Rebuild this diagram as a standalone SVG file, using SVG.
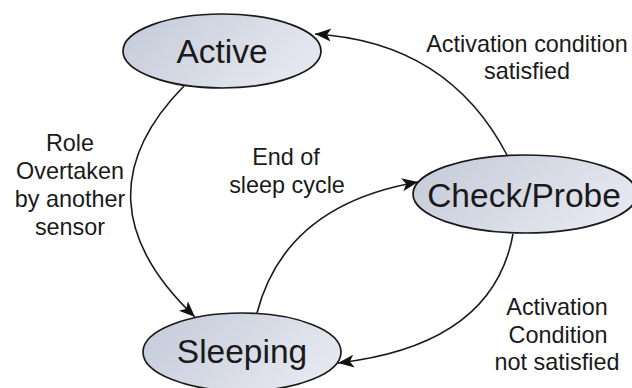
<svg xmlns="http://www.w3.org/2000/svg" width="632" height="388" viewBox="0 0 632 388">
<style>
.node ellipse{fill:url(#g);stroke:#1a1a1a;stroke-width:1.7}
.nl{font-family:"Liberation Sans",Arial,sans-serif;font-size:33.5px;fill:#1a1a1a;text-anchor:middle}
.el{font-family:"Liberation Sans",Arial,sans-serif;font-size:23.4px;fill:#1a1a1a;text-anchor:middle}
.edge{fill:none;stroke:#1a1a1a;stroke-width:1.6;marker-end:url(#ah)}
</style>
<defs>
<linearGradient id="g" x1="0" y1="0" x2="1" y2="0.4">
<stop offset="0" stop-color="#c4c9d8"/>
<stop offset="1" stop-color="#e4e7ef"/>
</linearGradient>
<marker id="ah" markerUnits="userSpaceOnUse" markerWidth="18" markerHeight="14" refX="16" refY="6.5" orient="auto" overflow="visible">
<path d="M0,0 L16,6.5 L0,13 L4,6.5 Z" fill="#111"/>
</marker>
</defs>
<rect width="632" height="388" fill="#fff"/>
<g id="connectors">
<path class="edge" d="M507,155 Q448,42 315,34"/>
<path class="edge" d="M184,86 Q72,200 195,317"/>
<path class="edge" d="M257,313 Q285,205 418,182"/>
<path class="edge" d="M513,234 Q493,345 338,363"/>
</g>
<g id="node-active" class="node">
<ellipse cx="222" cy="51" rx="99" ry="37"/>
<text class="nl" x="222" y="63">Active</text>
</g>
<g id="node-check" class="node">
<ellipse cx="525" cy="194" rx="112" ry="39"/>
<text class="nl" x="524" y="207">Check/Probe</text>
</g>
<g id="node-sleeping" class="node">
<ellipse cx="242" cy="352" rx="99" ry="39"/>
<text class="nl" x="242" y="363">Sleeping</text>
</g>
<g id="labels">
<text class="el" x="527" y="52">Activation condition</text>
<text class="el" x="527" y="79">satisfied</text>
<text class="el" x="70" y="151">Role</text>
<text class="el" x="70" y="179">Overtaken</text>
<text class="el" x="70" y="207">by another</text>
<text class="el" x="70" y="235">sensor</text>
<text class="el" x="286" y="165">End of</text>
<text class="el" x="287" y="193">sleep cycle</text>
<text class="el" x="557" y="315">Activation</text>
<text class="el" x="558" y="343">Condition</text>
<text class="el" x="557" y="370">not satisfied</text>
</g>
</svg>
